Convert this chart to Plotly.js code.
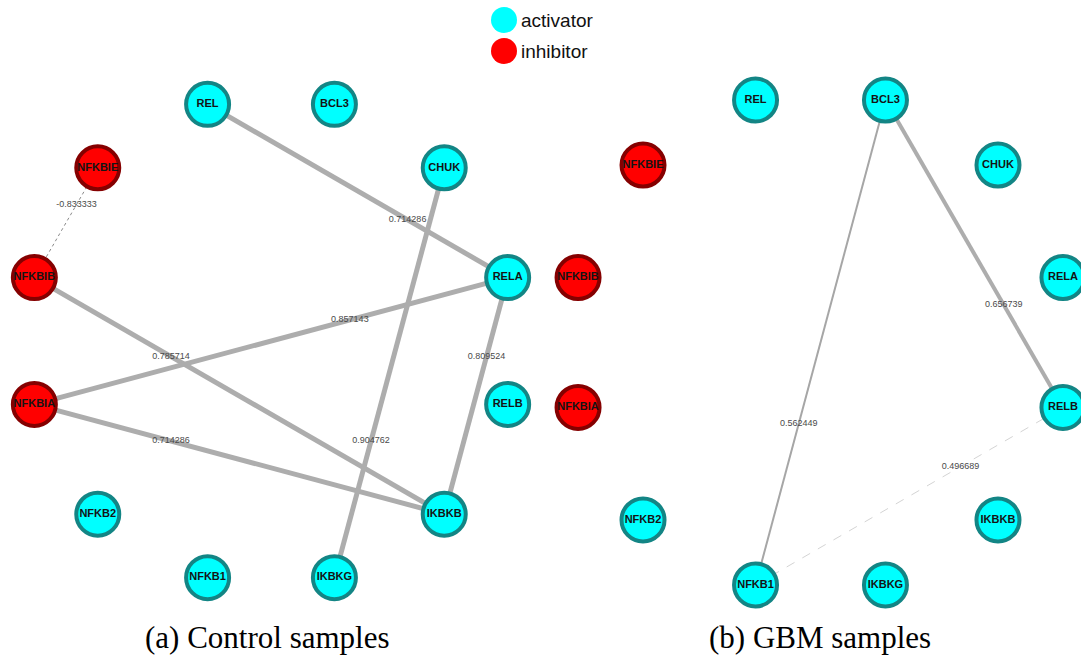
<!DOCTYPE html>
<html>
<head>
<meta charset="utf-8">
<script src="https://cdn.plot.ly/plotly-3.0.1.min.js"></script>
<style>
  html, body { margin: 0; padding: 0; background: #ffffff; }
  #net { width: 1081px; height: 657px; }
</style>
</head>
<body>
<div id="net"></div>
<script>
// Genes of the NF-kB pathway, in circular-layout order (clockwise from top-left)
const geneNames = ['REL', 'BCL3', 'CHUK', 'RELA', 'RELB', 'IKBKB', 'IKBKG', 'NFKB1', 'NFKB2', 'NFKBIA', 'NFKBIB', 'NFKBIE'];
const geneRoles = ['activator', 'activator', 'activator', 'activator', 'activator', 'activator',
                   'activator', 'activator', 'activator', 'inhibitor', 'inhibitor', 'inhibitor'];

// Correlation edges, control samples
const controlSource = ['REL', 'IKBKB', 'NFKBIA', 'IKBKB', 'CHUK', 'IKBKB', 'NFKBIB'];
const controlTarget = ['RELA', 'NFKBIB', 'RELA', 'NFKBIA', 'IKBKG', 'RELA', 'NFKBIE'];
const controlWeight = [0.714286, 0.785714, 0.857143, 0.714286, 0.904762, 0.809524, -0.833333];

// Correlation edges, GBM samples
const gbmSource = ['BCL3', 'BCL3', 'NFKB1'];
const gbmTarget = ['RELB', 'NFKB1', 'RELB'];
const gbmWeight = [0.656739, 0.562449, 0.496689];

const panelTitles = ['(a) Control samples', '(b) GBM samples'];
const roleNames = ['activator', 'inhibitor'];

// ---- layout and styling ----
const W = 1081, H = 657;
const panels = [
  { cx: 271, cy: 341, r: 245, src: controlSource, tgt: controlTarget, w: controlWeight, capX: 267 },
  { cx: 820.5, cy: 342.5, r: 251, src: gbmSource, tgt: gbmTarget, w: gbmWeight, capX: 820 }
];
const roleFill = { activator: '#00ffff', inhibitor: '#ff0000' };
const roleBorder = { activator: '#138585', inhibitor: '#850000' };

function nodePos(p, name) {
  const i = geneNames.indexOf(name);
  const a = (-105 + 30 * i) * Math.PI / 180;
  return [p.cx + p.r * Math.cos(a), p.cy + p.r * Math.sin(a)];
}

function edgeStyle(v) {
  if (v < 0) return { width: 1, color: '#8a8a8a', dash: 'dot' };
  if (v >= 0.7) return { width: 5, color: '#adadad', dash: 'solid' };
  if (v >= 0.6) return { width: 4, color: '#adadad', dash: 'solid' };
  if (v >= 0.55) return { width: 2, color: '#a6a6a6', dash: 'solid' };
  return { width: 1, color: '#d4d4d4', dash: 'dash' };
}

const traces = [];
const annotations = [];

panels.forEach(p => {
  // edges
  p.src.forEach((s, k) => {
    const a = nodePos(p, s), b = nodePos(p, p.tgt[k]);
    const st = edgeStyle(p.w[k]);
    traces.push({
      type: 'scatter', mode: 'lines', hoverinfo: 'skip', showlegend: false,
      x: [a[0], b[0]], y: [a[1], b[1]],
      line: { width: st.width, color: st.color, dash: st.dash }
    });
    const t = 2 / 3;
    traces.push({
      type: 'scatter', mode: 'text', hoverinfo: 'skip', showlegend: false,
      x: [a[0] + (b[0] - a[0]) * t], y: [a[1] + (b[1] - a[1]) * t],
      text: [String(p.w[k])], textposition: 'middle center',
      textfont: { family: 'Liberation Sans, Arial, sans-serif', size: 9, color: '#4a4a4a' }
    });
  });
  // nodes
  roleNames.forEach(role => {
    const names = geneNames.filter((g, i) => geneRoles[i] === role);
    const pos = names.map(n => nodePos(p, n));
    traces.push({
      type: 'scatter', mode: 'markers+text', hoverinfo: 'text', showlegend: false,
      x: pos.map(q => q[0]), y: pos.map(q => q[1]),
      text: names, textposition: 'middle center',
      textfont: { family: 'Liberation Sans, Arial, sans-serif', size: 11, color: '#141414', weight: 'bold' },
      marker: { size: 43, color: roleFill[role], line: { width: 4, color: roleBorder[role] } }
    });
  });
});

// legend
roleNames.forEach((role, i) => {
  const y = 20 + 31 * i;
  traces.push({
    type: 'scatter', mode: 'markers', hoverinfo: 'skip', showlegend: false,
    x: [504], y: [y], marker: { size: 26, color: roleFill[role] }
  });
  annotations.push({
    x: 519, y: y, xref: 'x', yref: 'y', xanchor: 'left', yanchor: 'middle',
    text: role, showarrow: false,
    font: { family: 'Liberation Sans, Arial, sans-serif', size: 19, color: '#111111' }
  });
});

// panel captions
panels.forEach((p, i) => {
  annotations.push({
    x: p.capX, y: 637, xref: 'x', yref: 'y', xanchor: 'center', yanchor: 'middle',
    text: panelTitles[i], showarrow: false,
    font: { family: 'Liberation Serif, Times New Roman, serif', size: 31, color: '#000000' }
  });
});

const layout = {
  width: W, height: H,
  margin: { l: 0, r: 0, t: 0, b: 0, pad: 0 },
  paper_bgcolor: '#ffffff', plot_bgcolor: '#ffffff',
  xaxis: { range: [0, W], visible: false, fixedrange: true },
  yaxis: { range: [H, 0], visible: false, fixedrange: true },
  annotations: annotations,
  showlegend: false
};

Plotly.newPlot('net', traces, layout, { displayModeBar: false, staticPlot: true });
</script>
</body>
</html>
